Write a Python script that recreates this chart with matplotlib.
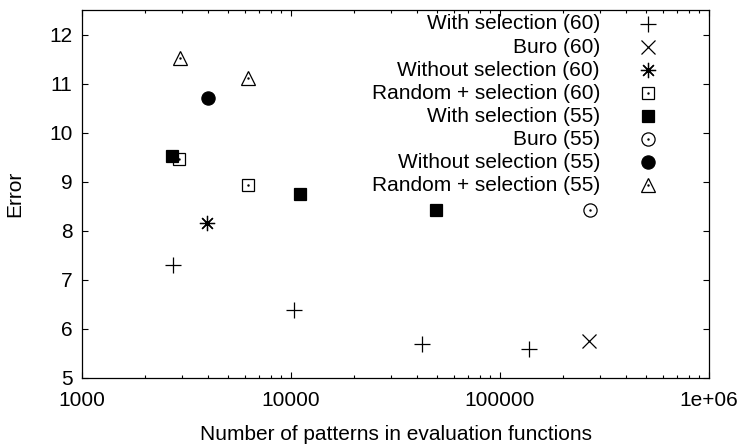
import matplotlib
matplotlib.use('Agg')
import matplotlib.pyplot as plt

plt.rcParams['font.family'] = ['Liberation Sans', 'DejaVu Sans']

# data (x = number of patterns, y = error)
sel60_x = [2720, 10380, 42200, 138000]
sel60_y = [7.31, 6.38, 5.70, 5.60]
buro60_x = [266700]
buro60_y = [5.75]
nosel60_x = [3980]
nosel60_y = [8.16]
rand60_x = [2910, 6210]
rand60_y = [9.47, 8.93]
sel55_x = [2690, 11040, 49200]
sel55_y = [9.52, 8.74, 8.42]
buro55_x = [270000]
buro55_y = [8.42]
nosel55_x = [4020]
nosel55_y = [10.70]
rand55_x = [2940, 6250]
rand55_y = [11.52, 11.12]

labels = ['With selection (60)', 'Buro (60)', 'Without selection (60)',
          'Random + selection (60)', 'With selection (55)', 'Buro (55)',
          'Without selection (55)', 'Random + selection (55)']

open_kw = dict(mfc='white', mec='black', ls='none', mew=0.9)
fill_kw = dict(mfc='black', mec='black', ls='none', mew=0.9)
series = [
    (sel60_x, sel60_y, dict(marker='+', ms=11, mew=0.9, color='black', ls='none'), False),
    (buro60_x, buro60_y, dict(marker='x', ms=10, mew=0.9, color='black', ls='none'), False),
    (nosel60_x, nosel60_y, dict(marker=(8, 2, 0), ms=11, mew=0.9, color='black', ls='none'), False),
    (rand60_x, rand60_y, dict(marker='s', ms=9, **open_kw), True),
    (sel55_x, sel55_y, dict(marker='s', ms=9, **fill_kw), False),
    (buro55_x, buro55_y, dict(marker='o', ms=9.5, **open_kw), True),
    (nosel55_x, nosel55_y, dict(marker='o', ms=9.5, **fill_kw), False),
    (rand55_x, rand55_y, dict(marker='^', ms=9.5, **open_kw), True),
]
dot_kw = dict(marker='.', ms=1.5, color='black', ls='none')

fig = plt.figure(figsize=(7.41, 4.47), dpi=100)
ax = fig.add_axes([0.1107, 0.1544, 0.8461, 0.8232])

for xs, ys, st, dot in series:
    ax.plot(xs, ys, **st)
    if dot:
        ax.plot(xs, ys, **dot_kw)

# gnuplot-style key: right-aligned text with the marker to its right
for i, (lab, (xs, ys, st, dot)) in enumerate(zip(labels, series)):
    yk = 0.962 - i * 0.0627
    ax.text(0.826, yk, lab, transform=ax.transAxes, ha='right', va='center', fontsize=15)
    ax.plot([0.903], [yk], transform=ax.transAxes, clip_on=False, **st)
    if dot:
        ax.plot([0.903], [yk], transform=ax.transAxes, clip_on=False, **dot_kw)

ax.set_xscale('log')
ax.set_xlim(1000, 1e6)
ax.set_ylim(5, 12.5)
ax.set_xticks([1000, 10000, 100000, 1e6])
ax.set_xticklabels(['1000', '10000', '100000', '1e+06'])
ax.set_yticks([5, 6, 7, 8, 9, 10, 11, 12])

ax.tick_params(which='both', direction='in', top=True, right=True, labelsize=15)
ax.tick_params(which='major', length=4.5, width=0.8)
ax.tick_params(which='minor', length=2.5, width=0.8)
ax.tick_params(axis='x', pad=9.5)
ax.tick_params(axis='y', pad=7)
for s in ax.spines.values():
    s.set_linewidth(0.9)

ax.set_xlabel('Number of patterns in evaluation functions', fontsize=15, labelpad=11)
ax.set_ylabel('Error', fontsize=15, labelpad=18)

fig.savefig('out.png', dpi=100)
